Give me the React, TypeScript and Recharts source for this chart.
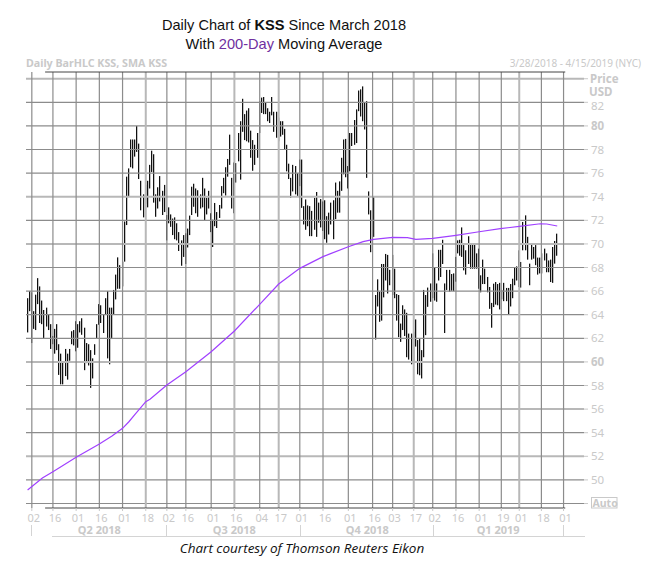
import React from 'react';
import { ComposedChart, Bar, Line, XAxis, YAxis, ReferenceLine } from 'recharts';

// daily highs and lows, one pair per trading day from 3/28/2018
const highs = [
  65.4, 66, 65.9, 64.3, 65.7, 67.1, 66.4, 65.2, 64.4, 64.6, 64, 63.2, 62.2, 62.8, 63.2, 61.5, 60.7, 60, 61.1, 60.7,
  61.1, 62.6, 62.7, 63.45, 63.2, 63.45, 63.7, 62.9, 61.6, 61.5, 61, 60.3, 61.5, 63.2, 64.9, 64.8, 64, 65.4, 66, 64.6,
  64.6, 66.1, 67.4, 68.86, 68.2, 68.5, 71.9, 75.7, 76.4, 78.85, 78.85, 78.85, 80, 78.5, 75.35, 74.2, 75, 75.35, 76.7, 77.9,
  77.6, 74.2, 74.8, 75.75, 74.5, 75, 72.45, 73.1, 72.5, 72.15, 72.25, 71.75, 71, 70.3, 70.75, 70.9, 71.3, 72.4, 74.85, 75.1,
  74.7, 74.55, 74.2, 75.6, 74.7, 73.9, 74.5, 72.6, 72.05, 73.47, 72.7, 73.3, 74.9, 75.6, 76.5, 77.2, 79.26, 75.6, 76.9, 76.85,
  79.4, 80.4, 82.3, 81, 81.3, 81.5, 79.6, 78.8, 78.4, 79.4, 82.1, 82.4, 82.45, 81.95, 81.5, 81.2, 82.45, 81.2, 81.2, 80.7,
  80.4, 80.4, 79.75, 78.4, 76.8, 75.6, 76.7, 76.6, 76, 77.15, 77.15, 73.2, 73.77, 73.26, 73.2, 72.8, 73.9, 74.4, 73.5, 73.8,
  73.6, 73.7, 72.35, 72.65, 73.5, 73.7, 75.2, 74.5, 75.3, 77.3, 78.85, 78.9, 76.6, 79.4, 79.4, 80.5, 81.4, 83, 83.1, 83.35,
  81.95, 82.1, 74.45, 72.85, 74, 65.67, 67, 65.95, 68.3, 68.3, 69.15, 69.07, 67.8, 69.07, 67.9, 65.75, 65.67, 63.25, 64.8, 64.45,
  64.16, 62.4, 62.4, 62.56, 63.6, 61.85, 61.98, 61, 66.1, 65.67, 66.3, 66.65, 69.2, 68, 66.65, 69.5, 69.5, 70.35, 66.65, 67.8,
  67.8, 67.45, 67.5, 68.9, 70.3, 70.35, 71.4, 69.9, 69.46, 70.65, 70, 69.97, 70, 69.2, 69.6, 67.34, 68.67, 67.9, 67.2, 66.35,
  65, 66.63, 66.77, 66.6, 66.7, 66.1, 66.7, 66.27, 66.27, 66.6, 67.05, 67.96, 68.1, 69.46, 68.47, 71.86, 72.42, 70.6, 68.33, 70,
  69.74, 69.9, 68.84, 68.84, 69.2, 69.6, 69.2, 68.6, 68.67, 69.74, 70.25, 70.87,
];
const lows = [
  62.5, 64.3, 61.6, 62.8, 62.7, 64.9, 63.3, 63.2, 62, 63, 62.7, 61.1, 61.5, 60.7, 61, 58.9, 58.1, 58.1, 58.8, 58.5,
  60.1, 61.5, 61.4, 60.9, 61.2, 62.5, 62.3, 59.3, 59.9, 59.7, 57.8, 58.6, 60.6, 62, 63.15, 63.3, 62.45, 64, 60.3, 59.8,
  62, 64, 65.3, 66.2, 66.2, 66.4, 68.5, 71.6, 74, 76.5, 76.4, 77.4, 77.8, 75.5, 72.85, 72.25, 73.4, 73.1, 74.7, 76.1,
  73.5, 72.3, 73, 73.6, 72.45, 72.7, 70.3, 71.75, 71.45, 70.75, 70.4, 70.3, 69.4, 68.15, 68.9, 68.3, 69.7, 70.75, 72.45, 73.15,
  72.6, 72.3, 73, 73.1, 72, 72.5, 73, 71, 69.74, 71.5, 71.35, 72.2, 73, 74.3, 74.1, 75.7, 76.7, 73, 72.6, 75.2,
  77, 75.45, 79.5, 78.8, 78.7, 78.6, 77.3, 76.2, 76.7, 77.3, 79.4, 81.1, 81, 81, 80.4, 80.25, 80.9, 79.5, 79, 78.7,
  79.1, 79.25, 78, 76.15, 75.5, 73.9, 74.45, 74.2, 74, 74.9, 73.06, 71.65, 71.2, 71.5, 70.66, 70.66, 71.2, 70.6, 71.8, 71.4,
  71.1, 70.4, 70.1, 70.8, 71.65, 70.4, 72.1, 72.65, 72.65, 74.5, 75.9, 75.65, 74.7, 76.15, 78.3, 78.4, 78.55, 81.25, 80.8, 80.4,
  79.7, 75.6, 72.5, 69.3, 70.6, 61.9, 64.7, 63.4, 63.5, 65.47, 66.9, 65.8, 66.5, 65.67, 65.4, 63.5, 62.1, 61.7, 62.7, 62.2,
  60.4, 60.2, 59.8, 59.9, 61.3, 58.95, 58.87, 58.6, 60.4, 62.27, 64.67, 65.1, 65.4, 65.2, 65.1, 66.9, 67.2, 68.3, 62.45, 66.1,
  65.95, 66.03, 66, 66.8, 69.2, 69, 68.9, 67.76, 67.4, 68.3, 67.9, 67.9, 67.9, 67.9, 66.2, 65.9, 66.6, 66.6, 65.9, 64.5,
  62.9, 64.65, 64.86, 64.8, 64.45, 65.3, 65.15, 65.15, 64, 64.7, 65.4, 66.5, 66.9, 66.35, 66.3, 69.46, 69.46, 68.67, 66.5, 68.67,
  68.75, 68.2, 67.4, 67.5, 67.5, 68.6, 67.6, 67.6, 66.77, 66.7, 68.33, 69,
];

// 200-day SMA, read at these trading-day positions
const smaDays = [0, 7, 12, 23, 34, 40, 45, 48, 51, 56, 58, 66, 75, 87, 98, 110, 119, 129, 140, 143, 152, 159, 164, 173, 180, 184, 192, 203, 214, 224, 233, 243, 246, 251];
const smaValues = [49.14, 50.16, 50.7, 51.92, 53.04, 53.72, 54.37, 54.93, 55.58, 56.63, 56.83, 58.04, 59.17, 60.86, 62.62, 64.88, 66.6, 67.93, 68.92, 69.14, 69.76, 70.19, 70.39, 70.56, 70.53, 70.39, 70.47, 70.73, 71.03, 71.29, 71.49, 71.71, 71.69, 71.52];

const dayTicks = [2, 12, 23, 34, 45, 56, 66, 75, 87, 98, 110, 119, 129, 140, 152, 163.5, 173, 183, 192, 203, 214, 224.5, 233, 243.5, 254];
const dayLabels = ['02', '16', '01', '16', '01', '18', '02', '16', '01', '16', '04', '17', '01', '16', '01', '16', '03', '17', '02', '16', '01', '19', '01', '18', '01'];
const heavyDayTicks = [56, 98, 119, 183, 233];

const quarterTicks = [34, 98, 161, 223];
const quarterLabels = ['Q2 2018', 'Q3 2018', 'Q4 2018', 'Q1 2019'];

const priceTicks = [84, 82, 80, 78, 76, 74, 72, 70, 68, 66, 64, 62, 60, 58, 56, 54, 52, 50, 48];
const heavyPrices = [84, 74, 70, 60, 56, 52];
const boldPrices = [80, 60];

const chartData = highs.map((high, i) => {
  const k = smaDays.indexOf(i);
  return { day: i, range: [lows[i], high], sma: k >= 0 ? smaValues[k] : null };
});

const AXIS_GREY = '#c9c9c9';
const UI_FONT = '"Noto Sans", sans-serif';

const DayTick = (props: any) => {
  const { x, y, payload } = props;
  const idx = dayTicks.indexOf(payload.value);
  return (
    <text x={x + 2} y={y + 9} textAnchor="middle" fontSize={11} fontFamily={UI_FONT} fill={AXIS_GREY}>
      {dayLabels[idx]}
    </text>
  );
};

const QuarterTick = (props: any) => {
  const { x, y, payload } = props;
  const idx = quarterTicks.indexOf(payload.value);
  return (
    <text x={x} y={y - 2} textAnchor="middle" fontSize={11} fontWeight="bold" fontFamily={UI_FONT} fill={AXIS_GREY}>
      {quarterLabels[idx]}
    </text>
  );
};

const PriceTick = (props: any) => {
  const { x, y, payload } = props;
  if (payload.value === 84 || payload.value === 48) return <g />;
  const bold = boldPrices.includes(payload.value);
  // the 82 label sits a little below its line, under USD
  const dy = payload.value === 82 ? 8 : 4;
  return (
    <text x={x + 1} y={y + dy} fontSize={11.5} fontWeight={bold ? 'bold' : 'normal'} fontFamily={UI_FONT} fill={AXIS_GREY}>
      {payload.value}
    </text>
  );
};

// snap each high-low stick to the pixel grid so it stays a thin dark line
const HlcBar = (props: any) => {
  const { x, y, width, height, fill } = props;
  return <rect x={Math.round(x)} y={y} width={width} height={height} fill={fill} />;
};

export default function App() {
  return (
    <div style={{ position: 'absolute', left: 0, top: 0, width: 656, height: 576, background: '#fff' }}>
      <ComposedChart
        width={656}
        height={576}
        data={chartData}
        margin={{ top: 72, right: 0, bottom: 24, left: 26 }}
      >
        <XAxis
          xAxisId="days"
          dataKey="day"
          type="number"
          scale="linear"
          domain={[-0.76, 263.69]}
          allowDataOverflow
          ticks={dayTicks}
          interval={0}
          tick={DayTick}
          tickSize={3}
          tickLine={{ stroke: AXIS_GREY }}
          axisLine={false}
          height={20}
        />
        <XAxis
          xAxisId="quarters"
          dataKey="day"
          type="number"
          scale="linear"
          domain={[-0.76, 263.69]}
          allowDataOverflow
          ticks={quarterTicks}
          interval={0}
          tick={QuarterTick}
          tickLine={false}
          axisLine={false}
          height={24}
        />
        <YAxis
          yAxisId="price"
          orientation="right"
          type="number"
          domain={[47.62, 84.57]}
          allowDataOverflow
          ticks={priceTicks}
          interval={0}
          tick={PriceTick}
          tickSize={4}
          tickLine={{ stroke: AXIS_GREY }}
          axisLine={false}
          width={72}
        />

        {priceTicks.map((p) => (
          <ReferenceLine
            key={`p${p}`}
            xAxisId="days"
            yAxisId="price"
            y={p}
            stroke={heavyPrices.includes(p) ? '#b8b8b8' : '#8c8c8c'}
            strokeWidth={heavyPrices.includes(p) ? 2 : 1.2}
          />
        ))}
        {dayTicks.map((d) => (
          <ReferenceLine
            key={`d${d}`}
            xAxisId="days"
            yAxisId="price"
            x={d}
            stroke={heavyDayTicks.includes(d) ? '#b8b8b8' : '#8c8c8c'}
            strokeWidth={heavyDayTicks.includes(d) ? 2 : 1.2}
          />
        ))}
        <ReferenceLine
          xAxisId="days"
          yAxisId="price"
          segment={[{ x: 8.3, y: 84.57 }, { x: 254.8, y: 84.57 }]}
          stroke="#444"
        />
        <ReferenceLine
          xAxisId="days"
          yAxisId="price"
          segment={[{ x: 8.3, y: 47.62 }, { x: 254.8, y: 47.62 }]}
          stroke="#444"
        />

        <Bar
          xAxisId="days"
          yAxisId="price"
          dataKey="range"
          barSize={1.25}
          fill="#111"
          shape={HlcBar}
          isAnimationActive={false}
        />
        <Line
          xAxisId="days"
          yAxisId="price"
          dataKey="sma"
          connectNulls
          dot={false}
          stroke="#a040ff"
          strokeWidth={1.2}
          isAnimationActive={false}
        />
      </ComposedChart>

      <svg width={656} height={576} style={{ position: 'absolute', left: 0, top: 0, pointerEvents: 'none' }}>
        <text x={284} y={30} textAnchor="middle" fontSize={14.6} fontFamily='"Liberation Sans", Arial, sans-serif' fill="#111">
          Daily Chart of <tspan fontWeight="bold">KSS</tspan> Since March 2018
        </text>
        <text x={284} y={49} textAnchor="middle" fontSize={14.6} fontFamily='"Liberation Sans", Arial, sans-serif' fill="#111">
          With <tspan fill="#7030a0">200-Day</tspan> Moving Average
        </text>

        <text x={26} y={67} fontSize={10.7} fontWeight="bold" fontFamily={UI_FONT} fill={AXIS_GREY}>
          Daily BarHLC KSS, SMA KSS
        </text>
        <text x={641} y={67} textAnchor="end" fontSize={10} fontFamily={UI_FONT} fill={AXIS_GREY}>
          3/28/2018 - 4/15/2019 (NYC)
        </text>
        <text x={590} y={83} fontSize={11.5} fontWeight="bold" fontFamily={UI_FONT} fill={AXIS_GREY}>Price</text>
        <text x={589} y={96} fontSize={11.5} fontWeight="bold" fontFamily={UI_FONT} fill={AXIS_GREY}>USD</text>

        <rect x={591.5} y={497.5} width={25.5} height={10.5} fill="#fff" stroke={AXIS_GREY} />
        <text x={592.5} y={506.5} fontSize={10.5} fontWeight="bold" fontFamily={UI_FONT} fill={AXIS_GREY}>Auto</text>

        <g stroke="#d4d4d4" fill="none">
          <path d="M31.5 525V536M52 536.5H585" />
          <path d="M166.5 525V536M300.5 525V536M433.5 525V536M563.5 525V536" />
        </g>

        <text x={302} y={553} textAnchor="middle" fontSize={13.5} fontStyle="italic" fontFamily='"Open Sans", sans-serif' fill="#111">
          Chart courtesy of Thomson Reuters Eikon
        </text>
      </svg>
    </div>
  );
}
